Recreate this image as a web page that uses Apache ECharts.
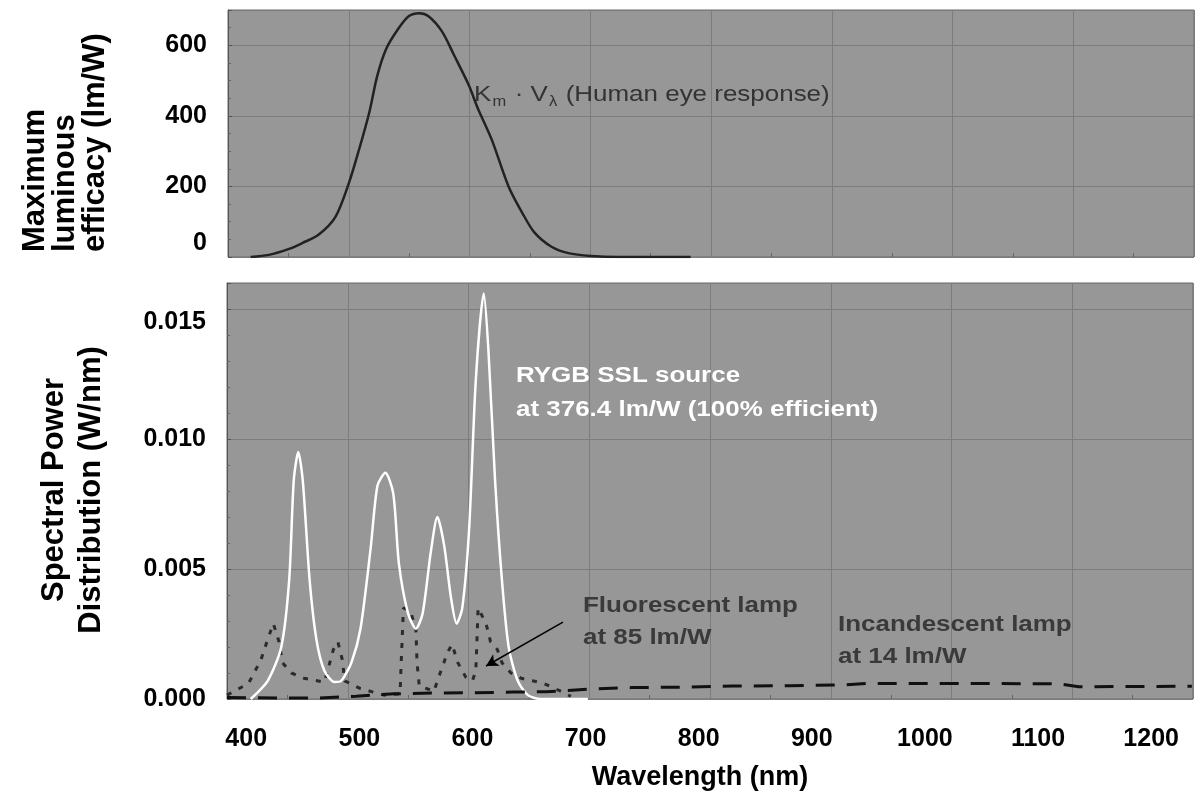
<!DOCTYPE html>
<html>
<head>
<meta charset="utf-8">
<script src="https://cdn.jsdelivr.net/npm/echarts@6/dist/echarts.min.js"></script>
<style>
html,body{margin:0;padding:0;background:#fff;}
#chart{width:1203px;height:811px;}
</style>
</head>
<body>
<div id="chart"></div>
<script>
// ---- data (wavelength nm, value) ----
const xTickLabels = [400, 500, 600, 700, 800, 900, 1000, 1100, 1200];
const effTicks = [0, 200, 400, 600];
const spdTicks = [0, 0.005, 0.010, 0.015];

// Km * V(lambda) human eye response (lm/W)
const eyeResponse = [
  [403,0],[419,6],[437,23],[449,40],[463,63],[478,114],[490,211],[499,306],[508,411],
  [515,514],[523,591],[534,649],[543,683],[552,691],[560,683],[572,640],[583,571],
  [596,486],[604,420],[616,334],[631,200],[643,126],[654,69],[669,29],[684,11],
  [704,3],[728,0],[792,0]
];

// RYGB SSL source (W/nm)
const rygb = [
  [404,0.0000],[419,0.0007],[431,0.0020],[438,0.0046],[442,0.0084],[446,0.0095],
  [450,0.0084],[456,0.0046],[462,0.0023],[469,0.0011],[478,0.00065],[484,0.0007],
  [493,0.0014],[501,0.0027],[510,0.0058],[516,0.0082],[523,0.0087],[530,0.0079],
  [535,0.0052],[543,0.0033],[550,0.0027],[556,0.0033],[563,0.0056],[569,0.0070],
  [575,0.0059],[581,0.0039],[586,0.0029],[591,0.0035],[597,0.0065],[603,0.0123],
  [610,0.0156],[614,0.0135],[620,0.0084],[626,0.0046],[632,0.0020],[640,0.0007],
  [649,0.00015],[660,0],[702,0]
];

// Fluorescent lamp (W/nm)
const fluorescent = [
  [383,0.00015],[402,0.0006],[413,0.0015],[419,0.0023],[424,0.0029],[429,0.0022],
  [432,0.0014],[440,0.0010],[451,0.0008],[469,0.00065],[472,0.0011],[477,0.0019],
  [481,0.0022],[485,0.0015],[487,0.0007],[501,0.0004],[522,0.00015],[536,0.0002],
  [537,0.0014],[539,0.0035],[545,0.0034],[550,0.0027],[551,0.0014],[553,0.0005],
  [566,0.0003],[569,0.0007],[578,0.0018],[582,0.0021],[587,0.0014],[594,0.00085],
  [600,0.0007],[603,0.0011],[604,0.0023],[605,0.0035],[612,0.0029],[616,0.0022],
  [622,0.0019],[626,0.0014],[634,0.0010],[643,0.0008],[653,0.0007],[663,0.0006],
  [678,0.0003],[687,0.0001]
];

// Incandescent lamp (W/nm)
const incandescent = [
  [383,0.00006],[430,0.00004],[465,0.00004],[497,0.00011],[531,0.0002],[568,0.00023],
  [603,0.00024],[636,0.00027],[665,0.00028],[704,0.00038],[741,0.00044],[792,0.00046],
  [830,0.0005],[881,0.00051],[930,0.00055],[951,0.0006],[1050,0.0006],[1119,0.00058],
  [1136,0.00047],[1236,0.00049]
];

// arrow annotation for fluorescent lamp (data coords)
const arrowFrom = [680, 0.00296];
const arrowTo = [612, 0.00127];

// ---- chart ----
const FONT = '"Liberation Sans", Arial, sans-serif';
const XMIN = 383, XMAX = 1237;
const GRID_LINE = '#7c7c7c';
const PLOT_BG = '#979797';
const SX = 1.18; // horizontal stretch of annotation text

const chart = echarts.init(document.getElementById('chart'), null, {renderer: 'canvas'});

function gridAxis(gridIndex) {
  return {
    type: 'value', gridIndex: gridIndex, min: 0, max: 8, interval: 1,
    position: 'bottom',
    axisLine: {show: false},
    axisLabel: {show: false},
    axisTick: {show: false, inside: true},
    minorTick: {show: true, splitNumber: 2, length: 4, lineStyle: {color: '#666'}},
    splitLine: {show: true, lineStyle: {color: GRID_LINE, width: 1}},
    minorSplitLine: {show: false}
  };
}

const tickFont = {fontFamily: FONT, fontWeight: 'bold', fontSize: 25, color: '#000'};

const option = {
  backgroundColor: '#ffffff',
  animation: false,
  grid: [
    {left: 228, top: 10, width: 966, height: 247, show: true, backgroundColor: PLOT_BG,
     borderColor: '#6a6a6a', borderWidth: 1},
    {left: 227, top: 283, width: 966, height: 416, show: true, backgroundColor: PLOT_BG,
     borderColor: '#6a6a6a', borderWidth: 1}
  ],
  xAxis: [
    {type: 'value', gridIndex: 0, min: XMIN, max: XMAX, show: false,
     splitLine: {show: false}},
    gridAxis(0),
    {type: 'value', gridIndex: 1, min: XMIN, max: XMAX,
     axisLine: {show: false}, axisTick: {show: false}, splitLine: {show: false},
     axisLabel: Object.assign({show: true, customValues: xTickLabels, margin: 28,
       formatter: v => String(v)}, tickFont)},
    gridAxis(1)
  ],
  yAxis: [
    {type: 'value', gridIndex: 0, min: 0, max: 700, interval: 200,
     axisLine: {show: true, lineStyle: {color: '#555'}},
     axisTick: {show: true, inside: true, length: 4, lineStyle: {color: '#555'}},
     minorTick: {show: true, splitNumber: 4, length: 3, lineStyle: {color: '#666'}},
     splitLine: {show: true, lineStyle: {color: GRID_LINE}},
     axisLabel: Object.assign({customValues: effTicks, margin: 21,
       formatter: v => v === 0 ? '{up|0}' : String(v),
       rich: {up: {fontFamily: FONT, fontWeight: 'bold', fontSize: 25, color: '#000', padding: [0, 0, 28, 0]}}
     }, tickFont)},
    {type: 'value', gridIndex: 1, min: 0, max: 0.016, interval: 0.005,
     axisLine: {show: true, lineStyle: {color: '#555'}},
     axisTick: {show: true, inside: true, length: 4, lineStyle: {color: '#555'}},
     minorTick: {show: true, splitNumber: 5, length: 3, lineStyle: {color: '#666'}},
     splitLine: {show: true, lineStyle: {color: GRID_LINE}},
     axisLabel: Object.assign({customValues: spdTicks, margin: 21,
       formatter: v => v > 0.012 ? '{dn|' + v.toFixed(3) + '}' : v.toFixed(3),
       rich: {dn: {fontFamily: FONT, fontWeight: 'bold', fontSize: 25, color: '#000', padding: [26, 0, 0, 0]}}
     }, tickFont)}
  ],
  series: [
    {name: 'Human eye response', type: 'line', xAxisIndex: 0, yAxisIndex: 0,
     data: eyeResponse, showSymbol: false, smooth: 0.3,
     lineStyle: {color: '#222', width: 2.5}},
    {name: 'Fluorescent lamp', type: 'line', xAxisIndex: 2, yAxisIndex: 1,
     data: fluorescent, showSymbol: false,
     lineStyle: {color: '#2b2b2b', width: 3, type: [5, 8]},
     markLine: {silent: true, symbol: ['none', 'arrow'], symbolSize: [10, 12],
       label: {show: false},
       lineStyle: {color: '#000', width: 1.5, type: 'solid'},
       data: [[{coord: arrowFrom}, {coord: arrowTo}]]}},
    {name: 'RYGB SSL source', type: 'line', xAxisIndex: 2, yAxisIndex: 1,
     data: rygb, showSymbol: false, smooth: 0.25,
     lineStyle: {color: '#ffffff', width: 2.5}},
    {name: 'Incandescent lamp', type: 'line', xAxisIndex: 2, yAxisIndex: 1,
     data: incandescent, showSymbol: false,
     lineStyle: {color: '#111', width: 3, type: [19, 12]}}
  ],
  graphic: [
    {type: 'text', x: 474, y: 95, scaleX: SX, z: 10,
     style: {text: '{n|K}{s|m}{n| · V}{s|λ}{n| (Human eye response)}', fill: '#333',
       textVerticalAlign: 'middle',
       rich: {
         n: {fontFamily: FONT, fontSize: 22, fill: '#333', verticalAlign: 'bottom'},
         s: {fontFamily: FONT, fontSize: 14, fill: '#333', verticalAlign: 'bottom', padding: [0,1,-3,1]}
       }}},
    {type: 'text', x: 516, y: 393, scaleX: SX, z: 10,
     style: {text: 'RYGB SSL source\nat 376.4 lm/W (100% efficient)', fill: '#ffffff',
       font: 'bold 22px ' + FONT, lineHeight: 34, textAlign: 'left', textVerticalAlign: 'middle'}},
    {type: 'text', x: 583, y: 622, scaleX: SX, z: 10,
     style: {text: 'Fluorescent lamp\nat 85 lm/W', fill: '#3a3a3a',
       font: 'bold 22px ' + FONT, lineHeight: 32, textAlign: 'left', textVerticalAlign: 'middle'}},
    {type: 'text', x: 838, y: 641, scaleX: SX, z: 10,
     style: {text: 'Incandescent lamp\nat 14 lm/W', fill: '#3a3a3a',
       font: 'bold 22px ' + FONT, lineHeight: 32, textAlign: 'left', textVerticalAlign: 'middle'}},
    {type: 'text', x: 65, y: 252, rotation: Math.PI / 2, z: 10,
     style: {text: 'Maximum\nluminous\nefficacy (lm/W)', fill: '#000',
       font: 'bold 31px ' + FONT, lineHeight: 30, textAlign: 'left', textVerticalAlign: 'middle'}},
    {type: 'text', x: 73, y: 490, rotation: Math.PI / 2, z: 10,
     style: {text: 'Spectral Power\nDistribution (W/nm)', fill: '#000',
       font: 'bold 31px ' + FONT, lineHeight: 37, textAlign: 'center', textVerticalAlign: 'middle'}},
    {type: 'text', x: 700, y: 778, z: 10,
     style: {text: 'Wavelength (nm)', fill: '#000',
       font: 'bold 27px ' + FONT, textAlign: 'center', textVerticalAlign: 'middle'}}
  ]
};
chart.setOption(option);
</script>
</body>
</html>
